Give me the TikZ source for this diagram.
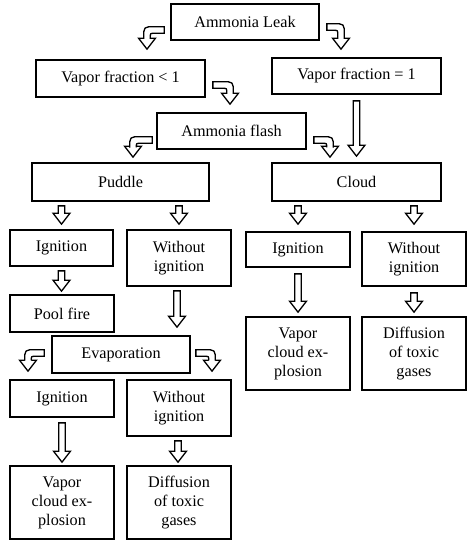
\documentclass[tikz,border=0pt]{standalone}
\usepackage{fontspec}
\setmainfont{Liberation Serif}
\usetikzlibrary{calc}
\begin{document}
\begin{tikzpicture}[x=1pt,y=-1pt,
 box/.style={draw, line width=1.7pt, inner sep=0pt, align=center, font=\fontsize{16.2}{19}\selectfont},
 barrow/.style={draw, line width=1.3pt, fill=white, to path={let \p1=(\tikztostart), \p2=(\tikztotarget) in
   (\x1-3.3pt,\y1) -- (\x1+3.3pt,\y1) -- (\x1+3.3pt,\y2+11pt) -- (\x1+8.5pt,\y2+11pt) -- (\x1,\y2)
   -- (\x1-8.5pt,\y2+11pt) -- (\x1-3.3pt,\y2+11pt) -- cycle}},
 carrow/.style={draw, line width=1.3pt, fill=white, to path={let \p1=(\tikztostart), \p2=(\tikztotarget) in
   (\x1,\y1+3.3pt) -- ({\x2+(#1)*(3.3pt-11pt)},\y1+3.3pt)
   .. controls ({\x2+(#1)*3.3pt},\y1+3.3pt) .. ({\x2+(#1)*3.3pt},\y1+3.3pt-11pt)
   -- ({\x2+(#1)*3.3pt},\y2+11pt) -- ({\x2+(#1)*8.5pt},\y2+11pt) -- (\x2,\y2)
   -- ({\x2-(#1)*8.5pt},\y2+11pt) -- ({\x2-(#1)*3.3pt},\y2+11pt)
   -- ({\x2-(#1)*3.3pt},\y1-7.3pt)
   .. controls ({\x2-(#1)*3.3pt},\y1-3.3pt) .. ({\x2-(#1)*7.3pt},\y1-3.3pt)
   -- (\x1,\y1-3.3pt) -- cycle}}]
\useasboundingbox (0,0) rectangle (474,552);

\node[box, minimum width=148pt, minimum height=36pt] (leak) at (245,22) {Ammonia Leak};
\node[box, minimum width=169pt, minimum height=37pt] (vlt) at (120.5,78.5) {Vapor fraction < 1};
\node[box, minimum width=169pt, minimum height=36pt] (veq) at (356.5,76) {Vapor fraction = 1};
\node[box, minimum width=149pt, minimum height=36pt] (flash) at (231.5,131) {Ammonia flash};
\node[box, minimum width=177pt, minimum height=38pt] (puddle) at (120.5,182) {Puddle};
\node[box, minimum width=169pt, minimum height=38pt] (cloud) at (356.5,182) {Cloud};
\node[box, minimum width=103pt, minimum height=36pt] (ign1) at (61.5,248) {Ignition};
\node[box, minimum width=104pt, minimum height=56pt] (wo1) at (179,258) {Without\\ignition};
\node[box, minimum width=104pt, minimum height=35pt] (ign2) at (298,249.5) {Ignition};
\node[box, minimum width=104pt, minimum height=54pt] (wo2) at (414,259) {Without\\ignition};
\node[box, minimum width=104pt, minimum height=37pt] (pool) at (62,313.5) {Pool fire};
\node[box, minimum width=104pt, minimum height=73pt] (vce2) at (298,353.5) {Vapor\\cloud ex-\\plosion};
\node[box, minimum width=104pt, minimum height=73pt] (diff2) at (414,353.5) {Diffusion\\of toxic\\gases};
\node[box, minimum width=138pt, minimum height=37pt] (evap) at (121,354.5) {Evaporation};
\node[box, minimum width=104pt, minimum height=37pt] (ign3) at (62,398.5) {Ignition};
\node[box, minimum width=104pt, minimum height=56pt] (wo3) at (179,408) {Without\\ignition};
\node[box, minimum width=104pt, minimum height=73pt] (vce3) at (62,502.5) {Vapor\\cloud ex-\\plosion};
\node[box, minimum width=104pt, minimum height=73pt] (diff3) at (179,502.5) {Diffusion\\of toxic\\gases};

% curved block arrows
\draw[carrow=-1] ($(leak.west)+(-6,8)$) to ($(vlt.north)+(26.5,-10)$);
\draw[carrow=1] ($(leak.east)+(7,5)$) to ($(veq.north)+(-15.5,-8)$);
\draw[carrow=1] ($(vlt.east)+(7,6.5)$) to ($(flash.north)+(-1.5,-8)$);
\draw[carrow=-1] ($(flash.west)+(-4,9)$) to ($(puddle.north)+(12.5,-5)$);
\draw[carrow=1] ($(flash.east)+(7,9)$) to ($(cloud.north)+(-26.5,-5)$);
\draw[carrow=-1] ($(evap.west)+(-7,-1.5)$) to ($(ign3.north)+(-34,-8)$);
\draw[carrow=1] ($(evap.east)+(5,-1.5)$) to ($(wo3.north)+(33,-8)$);

% straight block arrows
\draw[barrow] ($(veq.south)+(0,6)$) to ($(cloud.north)+(0,-6)$);
\draw[barrow] ($(ign1.north |- puddle.south)+(0,4)$) to ($(ign1.north)+(0,-5)$);
\draw[barrow] ($(wo1.north |- puddle.south)+(0,4)$) to ($(wo1.north)+(0,-5)$);
\draw[barrow] ($(ign2.north |- cloud.south)+(0,4)$) to ($(ign2.north)+(0,-7)$);
\draw[barrow] ($(wo2.north |- cloud.south)+(0,4)$) to ($(wo2.north)+(0,-7)$);
\draw[barrow] ($(ign1.south)+(0,4)$) to ($(pool.north)+(0,-3)$);
\draw[barrow] ($(wo1.south)+(-2,4)$) to ($(evap.north)+(0,-8)$);
\draw[barrow] ($(ign2.south)+(0,6)$) to ($(vce2.north)+(0,-4)$);
\draw[barrow] ($(wo2.south)+(0,6)$) to ($(diff2.north)+(0,-4)$);
\draw[barrow] ($(ign3.south)+(0,5)$) to ($(vce3.north)+(0,-3)$);
\draw[barrow] ($(wo3.south)+(-1,4)$) to ($(diff3.north)+(0,-3)$);
\end{tikzpicture}
\end{document}
